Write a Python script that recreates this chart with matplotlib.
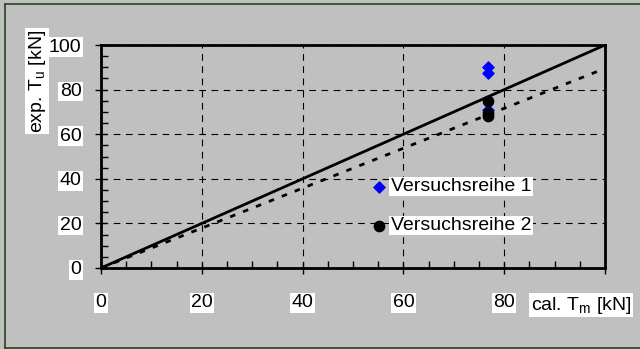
import matplotlib.pyplot as plt
from matplotlib.lines import Line2D
from matplotlib.ticker import MultipleLocator

plt.rcParams['font.family'] = ['Liberation Sans', 'DejaVu Sans']

# Versuchswerte (rechnerisch / experimentell)
reihe1_x = [76.8, 76.8, 76.8]
reihe1_y = [90.0, 87.5, 70.8]
reihe2_x = [76.8, 76.8, 76.8]
reihe2_y = [75.0, 69.5, 68.0]

# Vergleichslinien
linie_x = [0, 100]
linie_100 = [0, 100]
linie_90 = [0, 89.5]

ticks = [0, 20, 40, 60, 80, 100]
grau = '#C0C0C0'
fs = 14

fig = plt.figure(figsize=(6.4, 3.49), dpi=100)
fig.patch.set_facecolor(grau)

# dunkelgruener Rahmen
fig.add_artist(Line2D([5 / 640, 5 / 640], [1 - 4 / 349, 1 / 349], color='#1F4A1F', lw=1.2))
fig.add_artist(Line2D([5 / 640, 1], [1 - 4 / 349, 1 - 4 / 349], color='#1F4A1F', lw=1.2))
fig.add_artist(Line2D([5 / 640, 1], [1.5 / 349, 1.5 / 349], color='#1F4A1F', lw=1.2))

ax = fig.add_axes([101 / 640, 81 / 349, 504 / 640, 223 / 349])
ax.set_facecolor(grau)
ax.set_xlim(0, 100)
ax.set_ylim(0, 100)

for s in ax.spines.values():
    s.set_linewidth(2)
    s.set_color('black')

ax.set_xticks(ticks)
ax.set_yticks(ticks)
ax.xaxis.set_minor_locator(MultipleLocator(5))
ax.yaxis.set_minor_locator(MultipleLocator(5))
ax.tick_params(which='major', direction='inout', length=8, width=1, labelsize=fs)
ax.tick_params(which='minor', direction='in', length=5, width=1)
ax.tick_params(axis='x', pad=15)
ax.tick_params(axis='y', pad=10)
ax.set_xticklabels(['0', '20', '40', '60', '80', ''])
for lab in ax.get_xticklabels() + ax.get_yticklabels():
    lab.set_bbox(dict(facecolor='white', edgecolor='none', pad=1))

ax.grid(True, which='major', color='black', linestyle=(0, (6, 5)), linewidth=0.8)

ax.plot(linie_x, linie_100, color='black', lw=2, zorder=3)
ax.plot(linie_x, linie_90, color='black', lw=2, linestyle=(0, (2, 3)), zorder=3)

ax.scatter(reihe1_x, reihe1_y, marker='D', s=32, color='#0000FF', zorder=4, clip_on=False)
ax.scatter(reihe2_x, reihe2_y, marker='o', s=55, color='black', zorder=5, clip_on=False)

# Legende
ax.scatter([55.2], [36.5], marker='D', s=32, color='#0000FF', zorder=6)
ax.scatter([55.2], [19.0], marker='o', s=55, color='black', zorder=6)
box = dict(facecolor='white', edgecolor='none', pad=1)
ax.text(57.5, 36.5, 'Versuchsreihe 1', fontsize=fs, va='center', ha='left', bbox=box, zorder=6)
ax.text(57.5, 19.0, 'Versuchsreihe 2', fontsize=fs, va='center', ha='left', bbox=box, zorder=6)

# Achsentitel
fig.text(581 / 640, 1 - 305 / 349, 'cal. T$_\\mathregular{m}$ [kN]', fontsize=fs,
         ha='center', va='center', bbox=box)
fig.text(37 / 640, 1 - 81 / 349, 'exp. T$_\\mathregular{u}$ [kN]', fontsize=fs,
         ha='center', va='center', rotation=90, bbox=box)

fig.savefig('out.png', dpi=100, facecolor=grau)
